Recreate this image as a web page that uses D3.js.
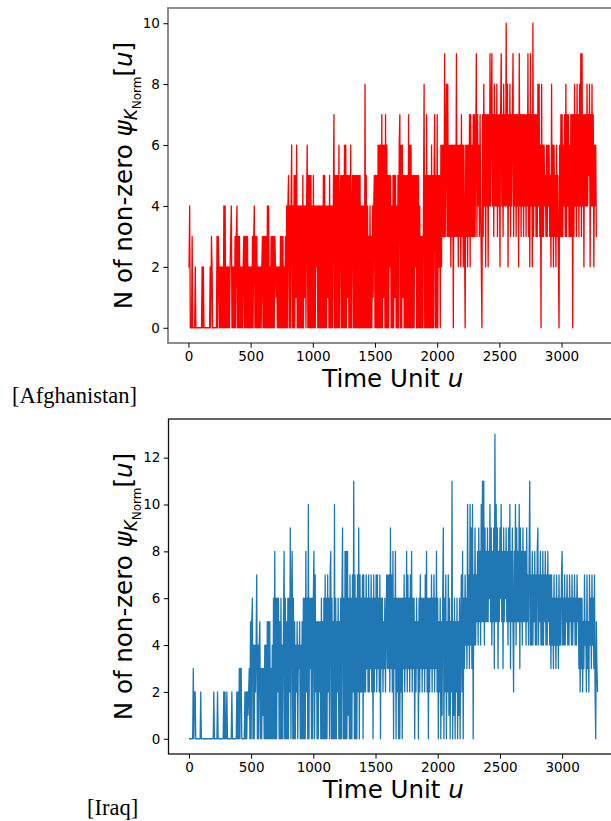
<!DOCTYPE html>
<html>
<head>
<meta charset="utf-8">
<script src="https://cdn.jsdelivr.net/npm/d3@7"></script>
<style>
  body { margin: 0; background: #fff; }
  svg { display: block; font-family: "DejaVu Sans", sans-serif; }
  .tick text { font-size: 13.5px; fill: #000; }
  .tick line { stroke: #000; }
  .caption { font-family: "Liberation Serif", "Times New Roman", serif; }
</style>
</head>
<body>
<svg id="chart" width="611" height="821"></svg>
<script>
// one sample every 5 time units, one hex digit per sample (a = 10 ...)
var timeStep = 5;

var afghanistanCounts = [
  "2240003000", "0200000000", "0020200000", "0000020320", "0000003032",
  "0202020404", "0202020234", "0202030340", "3030202023", "0303030202",
  "0203034030", "3020202023", "0303030404", "0203030303", "2120202030",
  "3030203040", "4504046040", "5051604040", "4040504140", "4605050504",
  "0504042404", "0404040505", "0404140504", "0404705050", "5060450505",
  "0606051505", "0604505050", "5050505040", "4040805040", "3040304145",
  "0505060606", "0706160706", "0505250405", "0515040506", "7060615050",
  "5050706060", "5050525050", "5040303048", "0507050505", "0605057050",
  "7052506263", "6393683836", "3626360636", "3936263627", "3626306362",
  "6372736373", "7369374637", "4207384727", "4727494794", "7384748374",
  "7279473847", "4a48274837", "4793747374", "7294737473", "7473749372",
  "9472a37473", "7384836083", "6364536364", "6352836263", "5263520637",
  "3736473837", "4736373707", "3847384738", "4939472747", "4847582748",
  "47264633"
];

var iraqCounts = [
  "0000000302", "2000000002", "0000000000", "0000000000", "2000002000",
  "0000002020", "0200000002", "0000000202", "0303300000", "2020212305",
  "0560404247", "0404503031", "3040405050", "5030406080", "6062605060",
  "4058060506", "0629068060", "5042504350", "4050606082", "60a0636060",
  "6807250505", "2506050607", "0607260780", "6050a06052", "6050606906",
  "0808081607", "06072b0706", "0729072627", "0726273627", "2637260726",
  "3727362706", "3625362573", "7372937280", "6380626060", "6260637263",
  "8273627382", "6360526350", "6273626362", "7382606263", "7263726382",
  "6052605169", "0627052716", "052b051605", "2605160572", "80637463a4",
  "73a493a074", "9475849584", "a5b5b49585", "9586a59485", "93d5a59385",
  "96a5839586", "958495a385", "95285a4958", "5a39584958", "58495748b4",
  "7484758474", "8947584748", "4758474857", "4737463746", "3746374647",
  "8464746574", "6475647465", "7464756362", "6362537452", "7352746374",
  "63720532"
];

var xTicks = [0, 500, 1000, 1500, 2000, 2500, 3000];
var afghanistanYTicks = [0, 2, 4, 6, 8, 10];
var iraqYTicks = [0, 2, 4, 6, 8, 10, 12];

function parseCounts(blocks) {
  return blocks.join("").split("").map(function (c, i) {
    return { t: i * timeStep, n: parseInt(c, 16) };
  });
}

var svg = d3.select("#chart");

function drawPanel(opts) {
  var data = parseCounts(opts.counts);
  var g = svg.append("g");

  // matplotlib style 5% margins
  var tMax = d3.max(data, function (d) { return d.t; });
  var nMax = d3.max(data, function (d) { return d.n; });
  var x = d3.scaleLinear()
    .domain([-0.05 * tMax, tMax * 1.05])
    .range([opts.left, opts.right]);
  var y = d3.scaleLinear()
    .domain([-0.05 * nMax, nMax * 1.05])
    .range([opts.bottom, opts.top]);

  var clipId = "clip-" + opts.id;
  svg.append("clipPath").attr("id", clipId)
    .append("rect")
    .attr("x", opts.left).attr("y", opts.top)
    .attr("width", opts.right - opts.left)
    .attr("height", opts.bottom - opts.top);

  var line = d3.line()
    .x(function (d) { return x(d.t); })
    .y(function (d) { return y(d.n); });

  g.append("path")
    .datum(data)
    .attr("clip-path", "url(#" + clipId + ")")
    .attr("fill", "none")
    .attr("stroke", opts.color)
    .attr("stroke-width", 1.3)
    .attr("stroke-linejoin", "round")
    .attr("d", line);

  // spines
  g.append("rect")
    .attr("x", opts.left).attr("y", opts.top)
    .attr("width", opts.right - opts.left)
    .attr("height", opts.bottom - opts.top)
    .attr("fill", "none")
    .attr("stroke", opts.spine)
    .attr("stroke-width", opts.spineWidth);

  var xAxis = g.append("g")
    .attr("transform", "translate(0," + opts.bottom + ")")
    .call(d3.axisBottom(x).tickValues(xTicks).tickSize(4.7).tickPadding(3.5).tickFormat(d3.format("d")));
  xAxis.select(".domain").remove();

  var yAxis = g.append("g")
    .attr("transform", "translate(" + opts.left + ",0)")
    .call(d3.axisLeft(y).tickValues(opts.yTicks).tickSize(4.7).tickPadding(3.5).tickFormat(d3.format("d")));
  yAxis.select(".domain").remove();
  g.selectAll(".tick text").attr("font-family", "DejaVu Sans").attr("font-size", 13.5);

  // axis titles
  var midX = (opts.left + opts.right) / 2;
  var xt = g.append("text")
    .attr("x", midX).attr("y", opts.bottom + 44)
    .attr("text-anchor", "middle")
    .attr("font-size", 24.5);
  xt.append("tspan").text("Time Unit ");
  xt.append("tspan").attr("font-style", "italic").text("u");

  var midY = (opts.top + opts.bottom) / 2;
  var yt = g.append("text")
    .attr("transform", "translate(132," + midY + ") rotate(-90)")
    .attr("text-anchor", "middle")
    .attr("font-size", 24.5);
  yt.append("tspan").text("N of non-zero ");
  yt.append("tspan").attr("font-style", "italic").text("\u03c8");
  yt.append("tspan").attr("font-style", "italic").attr("font-size", 17).attr("dy", 5).text("K");
  yt.append("tspan").attr("font-size", 12).attr("dy", 3.5).text("Norm");
  yt.append("tspan").attr("dy", -8.5).text("[");
  yt.append("tspan").attr("font-style", "italic").text("u");
  yt.append("tspan").text("]");

  svg.append("text")
    .attr("class", "caption")
    .attr("x", opts.captionX).attr("y", opts.captionY)
    .attr("font-size", 22.5)
    .text(opts.caption);
}

drawPanel({
  id: "afg", counts: afghanistanCounts, color: "#ff0000",
  left: 168, right: 617.4, top: 8, bottom: 343,
  yTicks: afghanistanYTicks, spine: "#808080", spineWidth: 1.8,
  caption: "[Afghanistan]", captionX: 12, captionY: 402.5
});

drawPanel({
  id: "irq", counts: iraqCounts, color: "#1f77b4",
  left: 168.5, right: 618, top: 419, bottom: 754,
  yTicks: iraqYTicks, spine: "#111", spineWidth: 1.3,
  caption: "[Iraq]", captionX: 87, captionY: 814.5
});
</script>
</body>
</html>
